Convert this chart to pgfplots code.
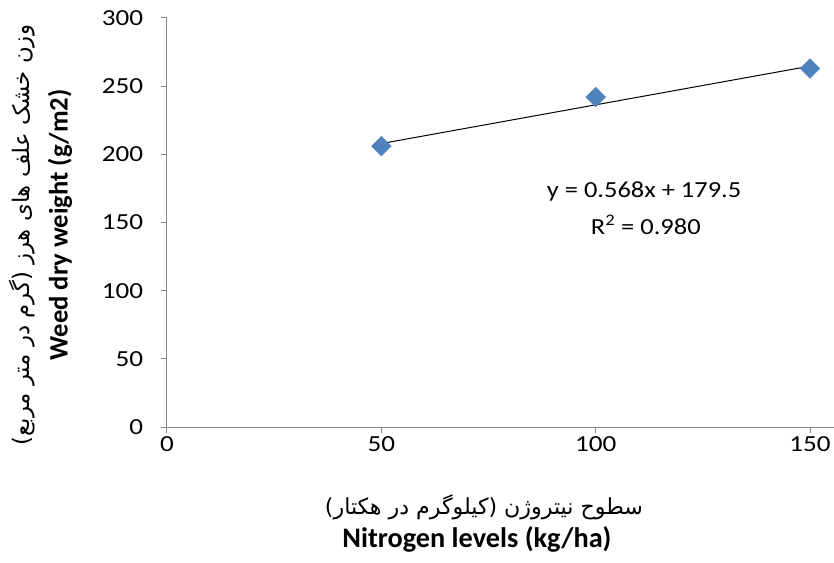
\documentclass[border=0pt]{standalone}
\usepackage{pgfplots}
\pgfplotsset{compat=1.18}
\usepackage{fontspec}
\usepackage{graphicx}
\setmainfont{Carlito}
\newfontfamily\arabicfont[Script=Arabic]{DejaVu Sans}
\TeXXeTstate=1
\definecolor{axisgray}{RGB}{134,134,134}
\definecolor{markblue}{RGB}{79,129,189}
\pgfplotstableread{
x y
50 206
100 242
150 263
}\weeddata
\begin{document}
\begin{tikzpicture}
\useasboundingbox (-167pt,-135pt) rectangle (667pt,427pt);
\begin{axis}[
  at={(0,0)}, anchor=south west,
  scale only axis, width=667pt, height=409pt,
  xmin=0, xmax=155.6, ymin=0, ymax=300,
  axis x line*=bottom, axis y line*=left,
  axis line style={draw=axisgray, line width=1pt},
  xtick={0,50,100,150}, ytick={0,50,100,150,200,250,300},
  xtick align=outside, ytick align=outside,
  major tick length=6pt,
  every tick/.style={draw=axisgray, line width=1pt},
  every tick label/.append style={font=\fontsize{23}{28}\selectfont, inner sep=0pt, xscale=1.18},
  yticklabel style={xshift=-15pt},
  xticklabel style={yshift=-3pt},
  /pgf/number format/assume math mode=true,
  clip=false,
]
\addplot[only marks, mark=square*, mark size=7pt,
  mark options={rotate=45, fill=markblue, draw=markblue}] table {\weeddata};
\addplot[black, line width=1pt, no marks] coordinates {(50,207.9) (150,264.7)};
\node[font=\fontsize{23}{28}\selectfont, xscale=1.15] at (axis cs:111.3,172.4) {y = 0.568x + 179.5};
\node[font=\fontsize{23}{28}\selectfont, xscale=1.15] at (axis cs:111.7,148.2) {R\textsuperscript{2} = 0.980};
\end{axis}
\node at (317pt,-80pt) {\resizebox{318pt}{!}{\arabicfont\beginR سطوح نیتروژن (کیلوگرم در هکتار)\endR}};
\node at (310pt,-112pt) {\resizebox{269pt}{!}{\bfseries Nitrogen levels (kg/ha)}};
\node[rotate=90] at (-145pt,192pt) {\resizebox{420pt}{!}{\arabicfont\beginR وزن خشک علف های هرز (گرم در متر مربع)\endR}};
\node[rotate=90] at (-107pt,202pt) {\resizebox{271pt}{!}{\bfseries Weed dry weight (g/m2)}};
\end{tikzpicture}
\end{document}
